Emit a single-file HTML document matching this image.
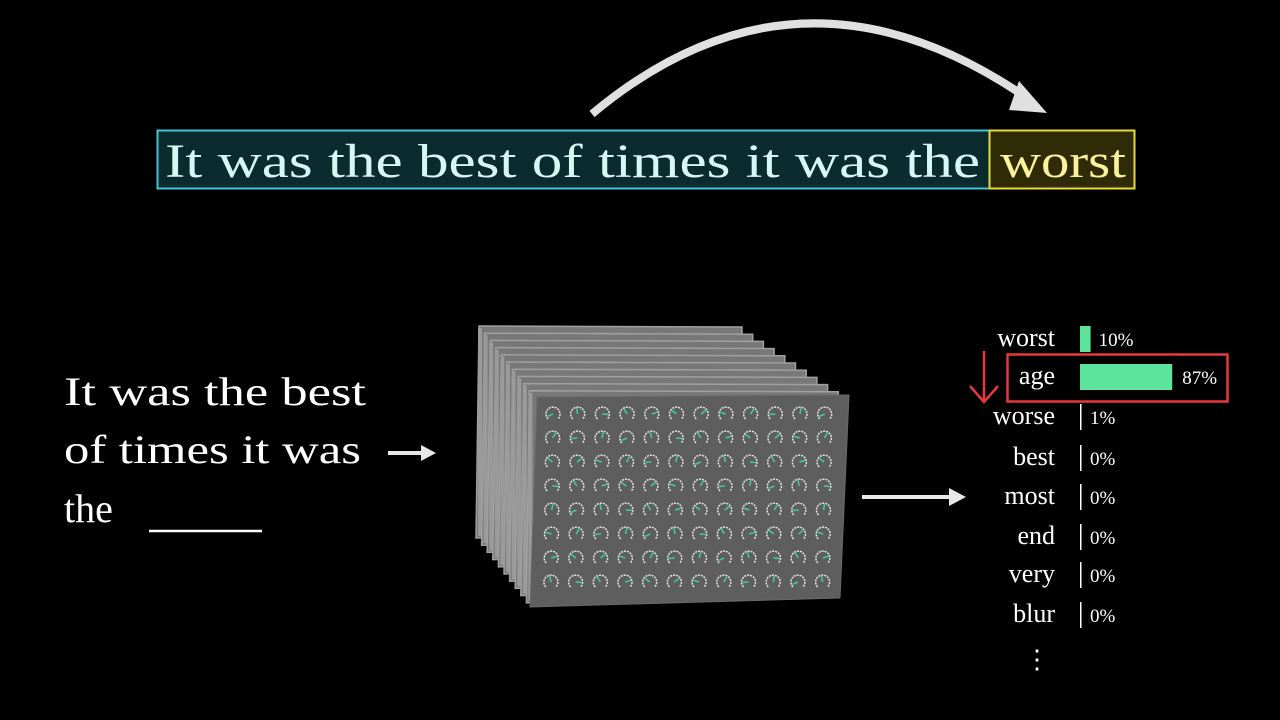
<!DOCTYPE html>
<html><head><meta charset="utf-8"><style>
html,body{margin:0;padding:0;background:#000;width:1280px;height:720px;overflow:hidden}
svg{display:block}
text{font-family:"Liberation Serif",serif}
</style></head><body>
<svg id="root" width="1280" height="720" viewBox="0 0 1280 720">
<rect width="1280" height="720" fill="#000"/>
<g>
<path d="M592,114 Q800,-60 1030,100" fill="none" stroke="#e0e0e0" stroke-width="8"/>
<polygon points="1019,81 1047,113 1009,110" fill="#e0e0e0"/>
</g>
<g>
<rect x="157.5" y="130.5" width="832" height="58" fill="#0b2b2f" stroke="#3fc5d5" stroke-width="2"/>
<text x="165" y="177" font-size="48" fill="#d8f6f6" textLength="815" lengthAdjust="spacingAndGlyphs">It was the best of times it was the</text>
</g>
<g>
<rect x="989.5" y="130.5" width="145" height="58" fill="#2f2b06" stroke="#e8d83a" stroke-width="2"/>
<text x="1000" y="177" font-size="48" fill="#fbf39a" textLength="126" lengthAdjust="spacingAndGlyphs">worst</text>
</g>
<g fill="#fff" font-size="40">
<text x="64" y="405" textLength="302" lengthAdjust="spacingAndGlyphs">It was the best</text>
<text x="64" y="463" textLength="297" lengthAdjust="spacingAndGlyphs">of times it was</text>
<text x="64" y="522">the</text>
<line x1="149" y1="531" x2="262" y2="531" stroke="#fff" stroke-width="2.5"/>
</g>
<g>
<line x1="388" y1="453" x2="424" y2="453" stroke="#e8e8e8" stroke-width="4"/>
<polygon points="421,445 436,453 421,461" fill="#e8e8e8"/>
</g>
<g id="machine"></g>
<g>
<line x1="862" y1="497" x2="952" y2="497" stroke="#e8e8e8" stroke-width="4"/>
<polygon points="949,488 966,497 949,506" fill="#e8e8e8"/>
</g>
<g id="chart"></g>
<g>
<rect x="1007.5" y="354.5" width="220" height="47" fill="none" stroke="#e8383f" stroke-width="2.5"/>
</g>
<g stroke="#e8383f" stroke-width="2.5" fill="none">
<line x1="984" y1="351" x2="984" y2="402"/>
<polyline points="970,386 984,402 998,386"/>
</g>
<text x="1024" y="668" font-size="26" fill="#fff">⋮</text>
</svg>
<script>
const NS="http://www.w3.org/2000/svg";
function mk(t,a,p){const e=document.createElementNS(NS,t);for(const k in a)e.setAttribute(k,a[k]);p.appendChild(e);return e;}
// machine
const m=document.getElementById('machine');
for(let i=0;i<10;i++){
  const dx=i*5.6, dy=i*7.2;
  const x0=479+dx,y0=326+dy, x1=742+i*10.7, y1=327+dy;
  const p=mk('polygon',{points:`${x0},${y0} ${x1},${y1} ${x1},${y1+205} ${x0-3},${y0+212}`,fill:'#787878',stroke:'#a0a0a0','stroke-width':1.5},m);
  
  
  mk('rect',{x:x0-1,y:y0+2,width:4,height:208,fill:'#9a9a9a'},m);
}
const f=mk('polygon',{points:'537,397 849,395 840,598 530,607',fill:'#5e5e5e',stroke:'#6a6a6a','stroke-width':1},m);


for(let r=0;r<8;r++)for(let c=0;c<12;c++){
  const cx=553+c*24.7-r*0.3, cy=414+r*24;
  const g=mk('g',{},m);
  
  
  mk('path',{d:`M${cx-5},${cy+5} A7,7 0 1 1 ${cx+5},${cy+5}`,fill:'none',stroke:'#e6e6e6','stroke-width':1.5,'stroke-dasharray':'2 1'},g);
  const a=((r*7+c*5)%11)/11*4-2;
  mk('line',{x1:cx,y1:cy,x2:cx+6*Math.sin(a),y2:cy-6*Math.cos(a),stroke:'#3ec9a6','stroke-width':1.6},g);
}
// chart
const words=["worst","age","worse","best","most","end","very","blur"];
const probs=[10,87,1,0,0,0,0,0];
const rowY=[339,377,417,458,497,537,575,615];
const ch=document.getElementById('chart');
const X0=1080, K=1.06;
const xs=v=>X0+v*K;
words.forEach((w,i)=>{
  const y=rowY[i];
  const t=mk('text',{x:1055,y:y+7,'font-size':26,fill:'#fff','text-anchor':'end'},ch);t.textContent=w;
  
  
  const wdt=Math.max(xs(probs[i])-X0,1.5);
  const b=mk('rect',{x:X0,y:y-13,width:wdt,height:26,fill:probs[i]>=1.5?'#5ee39c':'#fff'},ch);
  
  
  const lx=probs[i]>50?X0+wdt+10:X0+Math.max(wdt,2)+8;
  const v=mk('text',{x:lx,y:y+7,'font-size':19,fill:'#fff'},ch);v.textContent=probs[i]+'%';
  
  
});
</script>
</body></html>
